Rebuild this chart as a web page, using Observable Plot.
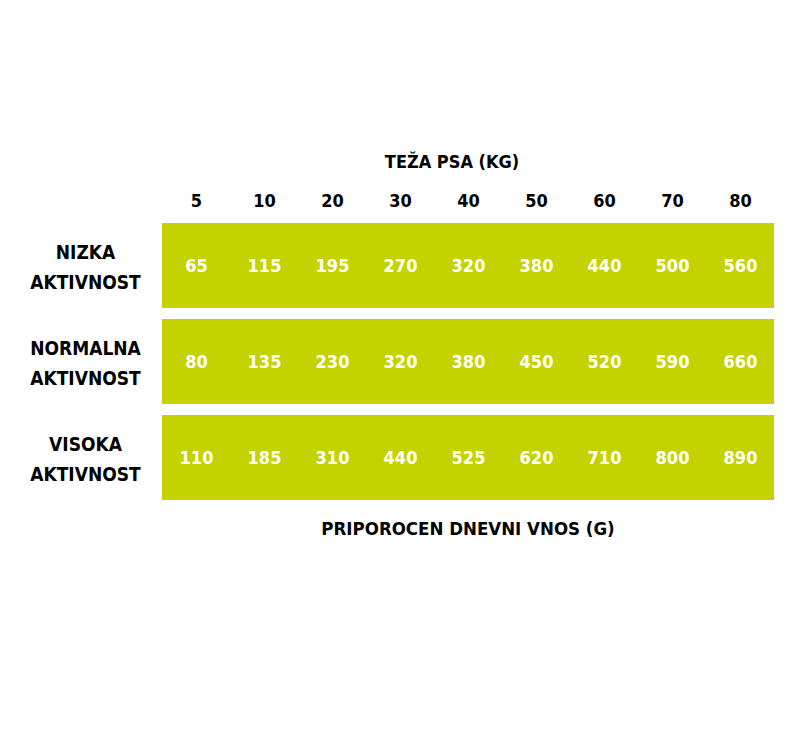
<!DOCTYPE html>
<html>
<head>
<meta charset="utf-8">
<script src="https://cdn.jsdelivr.net/npm/d3@7"></script>
<script src="https://cdn.jsdelivr.net/npm/@observablehq/plot@0.6"></script>
<style>
  html, body { margin: 0; padding: 0; background: #ffffff; }
  #chart svg { display: block; font-stretch: condensed; }
</style>
</head>
<body>
<div id="chart"></div>
<script>
const weights = ["5", "10", "20", "30", "40", "50", "60", "70", "80"];
const activity = ["NIZKA\nAKTIVNOST", "NORMALNA\nAKTIVNOST", "VISOKA\nAKTIVNOST"];
const nizka = [65, 115, 195, 270, 320, 380, 440, 500, 560];
const normalna = [80, 135, 230, 320, 380, 450, 520, 590, 660];
const visoka = [110, 185, 310, 440, 525, 620, 710, 800, 890];
const title = "TEŽA PSA (KG)";
const caption = "PRIPOROCEN DNEVNI VNOS (G)";

const series = [nizka, normalna, visoka];
const table = [];
activity.forEach((a, r) => {
  weights.forEach((w, c) => table.push({activity: a, weight: w, value: series[r][c]}));
});

const font = "'DejaVu Sans Condensed', 'Liberation Sans Narrow', sans-serif";

const chart = Plot.plot({
  width: 800,
  height: 746,
  marginTop: 222,
  marginBottom: 245,
  marginLeft: 160,
  marginRight: 25,
  style: {fontFamily: font, fontWeight: "bold", background: "#ffffff"},
  x: {type: "band", domain: weights, padding: 0},
  y: {type: "band", domain: activity, paddingInner: 0.11, paddingOuter: 0, axis: null},
  marks: [
    Plot.cell(table, {x: "weight", y: "activity", fill: "#c4d300", inset: 0}),
    Plot.text(table, {x: "weight", y: "activity", text: d => String(d.value), fill: "#ffffff", fontSize: 18, fontWeight: "bold"}),
    Plot.axisX({anchor: "top", tickSize: 0, tickPadding: 16, fontSize: 18, fontWeight: "bold", label: null, color: "#000"}),
    Plot.text(activity, {y: d => d, text: d => d, frameAnchor: "left", dx: -75, dy: -2, textAnchor: "middle", fontSize: 19, lineHeight: 1.58, fill: "#000", fontWeight: "bold"}),
    Plot.text([title], {text: d => d, frameAnchor: "top", lineAnchor: "middle", dy: -60, dx: -16, fontSize: 18, fill: "#000", fontWeight: "bold"}),
    Plot.text([caption], {text: d => d, frameAnchor: "bottom", lineAnchor: "middle", dy: 28, fontSize: 18.5, fill: "#000", fontWeight: "bold"})
  ]
});
document.getElementById("chart").appendChild(chart);
</script>
</body>
</html>
